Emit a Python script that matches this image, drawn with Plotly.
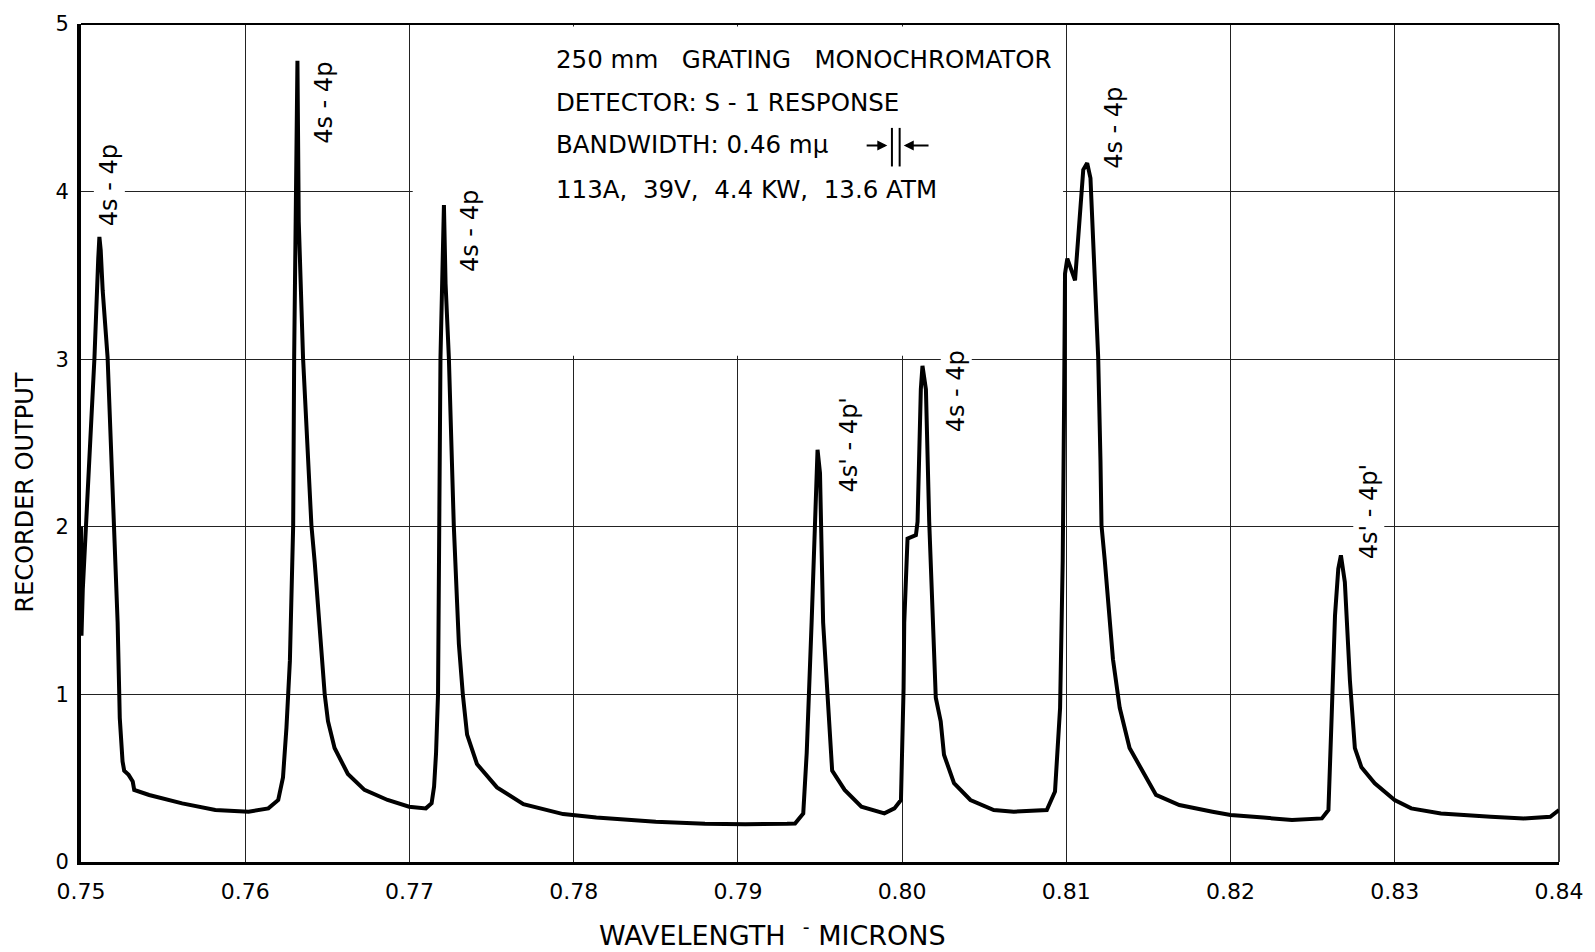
import plotly.graph_objects as go

# ---------------- data ----------------
wavelength = [
    0.75000, 0.75003, 0.75011, 0.75031, 0.75060, 0.75082, 0.75105, 0.75112, 0.75120, 0.75132,
    0.75162, 0.75203, 0.75223, 0.75233, 0.75236, 0.75253, 0.75263, 0.75290, 0.75304, 0.75315,
    0.75324, 0.75415, 0.75616, 0.75818, 0.76020, 0.76141, 0.76201, 0.76230, 0.76251, 0.76272,
    0.76292, 0.76298, 0.76318, 0.76326, 0.76352, 0.76403, 0.76423, 0.76453, 0.76484, 0.76504,
    0.76544, 0.76625, 0.76726, 0.76867, 0.76998, 0.77100, 0.77135, 0.77150, 0.77162, 0.77174,
    0.77180, 0.77189, 0.77210, 0.77220, 0.77240, 0.77270, 0.77290, 0.77301, 0.77325, 0.77351,
    0.77411, 0.77533, 0.77694, 0.77936, 0.78138, 0.78500, 0.78800, 0.79045, 0.79300, 0.79348,
    0.79398, 0.79419, 0.79449, 0.79469, 0.79478, 0.79485, 0.79500, 0.79519, 0.79574, 0.79650,
    0.79752, 0.79892, 0.79953, 0.79993, 0.80009, 0.80013, 0.80033, 0.80084, 0.80094, 0.80114,
    0.80124, 0.80145, 0.80165, 0.80195, 0.80205, 0.80235, 0.80255, 0.80316, 0.80416, 0.80558,
    0.80680, 0.80881, 0.80931, 0.80962, 0.80978, 0.80986, 0.80992, 0.81006, 0.81053, 0.81103,
    0.81127, 0.81147, 0.81163, 0.81194, 0.81208, 0.81214, 0.81234, 0.81284, 0.81325, 0.81385,
    0.81546, 0.81688, 0.81890, 0.82000, 0.82200, 0.82374, 0.82556, 0.82596, 0.82616, 0.82636,
    0.82656, 0.82672, 0.82696, 0.82727, 0.82757, 0.82797, 0.82878, 0.82999, 0.83100, 0.83281,
    0.83584, 0.83785, 0.83947, 0.84000,
]
output = [
    2.00, 1.35, 1.63, 2.01, 2.60, 3.01, 3.60, 3.73, 3.65, 3.41,
    3.01, 2.01, 1.43, 1.00, 0.86, 0.60, 0.545, 0.52, 0.50, 0.48,
    0.43, 0.40, 0.35, 0.31, 0.30, 0.32, 0.37, 0.505, 0.80, 1.20,
    2.01, 3.01, 4.78, 3.82, 3.01, 2.01, 1.79, 1.36, 1.00, 0.84,
    0.68, 0.525, 0.43, 0.37, 0.33, 0.32, 0.35, 0.45, 0.65, 1.00,
    2.01, 3.01, 3.92, 3.45, 3.01, 2.01, 1.55, 1.30, 1.00, 0.76,
    0.585, 0.445, 0.345, 0.286, 0.265, 0.24, 0.228, 0.225, 0.228, 0.23,
    0.29, 0.65, 1.43, 2.03, 2.30, 2.46, 2.32, 1.43, 0.545, 0.43,
    0.33, 0.29, 0.32, 0.37, 1.04, 1.43, 1.93, 1.95, 2.03, 2.82,
    2.96, 2.82, 2.03, 1.33, 0.98, 0.84, 0.64, 0.47, 0.37, 0.31,
    0.30, 0.31, 0.42, 0.92, 1.80, 2.69, 3.51, 3.60, 3.47, 4.13,
    4.17, 4.08, 3.72, 3.01, 2.39, 2.01, 1.80, 1.21, 0.92, 0.68,
    0.40, 0.34, 0.30, 0.28, 0.265, 0.25, 0.26, 0.31, 0.88, 1.47,
    1.75, 1.83, 1.67, 1.08, 0.68, 0.565, 0.47, 0.37, 0.32, 0.29,
    0.27, 0.26, 0.27, 0.31,
]

x_ticks = [0.75, 0.76, 0.77, 0.78, 0.79, 0.80, 0.81, 0.82, 0.83, 0.84]
x_tick_labels = ["0.75", "0.76", "0.77", "0.78", "0.79", "0.80", "0.81", "0.82", "0.83", "0.84"]
y_ticks = [0, 1, 2, 3, 4, 5]
y_tick_labels = ["0", "1", "2", "3", "4", "5"]

peak_labels = ["4s - 4p", "4s - 4p", "4s - 4p", "4s' - 4p'", "4s - 4p", "4s - 4p", "4s' - 4p'"]
peak_label_x = [0.75172, 0.76480, 0.77369, 0.79675, 0.80330, 0.81290, 0.82840]
peak_label_y = [4.040, 4.530, 3.765, 2.490, 2.810, 4.380, 2.090]

info_lines = [
    "250 mm   GRATING   MONOCHROMATOR",
    "DETECTOR: S - 1 RESPONSE",
    "BANDWIDTH: 0.46 mμ",
    "113A,  39V,  4.4 KW,  13.6 ATM",
]
info_y = [4.787, 4.530, 4.284, 4.010]

FONT = "DejaVu Sans"

fig = go.Figure()
fig.add_trace(go.Scatter(
    x=wavelength, y=output, mode="lines",
    line=dict(color="black", width=4),
    hoverinfo="skip", showlegend=False,
))

annotations = []
for t, x, y in zip(peak_labels, peak_label_x, peak_label_y):
    annotations.append(dict(
        x=x, y=y, xref="x", yref="y", text=t, textangle=-90,
        showarrow=False, font=dict(family=FONT, size=24, color="black"),
        bgcolor="white", borderpad=1,
    ))
for t, y in zip(info_lines, info_y):
    annotations.append(dict(
        x=0.77883, y=y, xref="x", yref="y", text=t, xanchor="left", yanchor="middle",
        showarrow=False, font=dict(family=FONT, size=24.5, color="black"),
    ))
# bandwidth symbol arrows
annotations.append(dict(x=0.79910, y=4.275, ax=0.79775, ay=4.275, xref="x", yref="y",
                        axref="x", ayref="y", text="", showarrow=True, arrowhead=2,
                        arrowsize=1, arrowwidth=2, arrowcolor="black"))
annotations.append(dict(x=0.80010, y=4.275, ax=0.80170, ay=4.275, xref="x", yref="y",
                        axref="x", ayref="y", text="", showarrow=True, arrowhead=2,
                        arrowsize=1, arrowwidth=2, arrowcolor="black"))
# axis titles
annotations.append(dict(x=-0.038, y=0.4408, xref="paper", yref="paper", text="RECORDER OUTPUT",
                        textangle=-90, showarrow=False, xanchor="center", yanchor="middle",
                        font=dict(family=FONT, size=24, color="black")))
annotations.append(dict(x=0.468, y=-0.0853, xref="paper", yref="paper",
                        text="WAVELENGTH  <sup>-</sup> MICRONS", showarrow=False,
                        xanchor="center", yanchor="middle",
                        font=dict(family=FONT, size=27, color="black")))

shapes = [
    # blank area behind the information block (above gridlines, below the curve)
    dict(type="rect", xref="x", yref="y", x0=0.7702, x1=0.8098, y0=3.02, y1=4.985,
         fillcolor="white", line=dict(width=0), layer="between"),
    # bandwidth bars
    dict(type="line", xref="x", yref="y", x0=0.79938, x1=0.79938, y0=4.15, y1=4.38,
         line=dict(color="black", width=2)),
    dict(type="line", xref="x", yref="y", x0=0.79985, x1=0.79985, y0=4.15, y1=4.38,
         line=dict(color="black", width=2)),
    # top and right frame
    dict(type="line", xref="paper", yref="paper", x0=0, x1=1, y0=1, y1=1,
         line=dict(color="black", width=2)),
    dict(type="line", xref="paper", yref="paper", x0=1, x1=1, y0=0, y1=1,
         line=dict(color="black", width=1.5)),
]

fig.update_layout(
    width=1595, height=952,
    margin=dict(l=81, r=26, t=18, b=90),
    paper_bgcolor="white", plot_bgcolor="white",
    annotations=annotations, shapes=shapes,
    font=dict(family=FONT, color="black"),
)
fig.update_xaxes(
    range=[0.75, 0.84], tickvals=x_ticks, ticktext=x_tick_labels,
    showgrid=True, gridcolor="#222222", gridwidth=1.2,
    showline=True, linecolor="black", linewidth=3,
    ticks="", ticklabelstandoff=8, zeroline=False,
    tickfont=dict(family=FONT, size=22, color="black"),
)
fig.update_yaxes(
    range=[0, 5], tickvals=y_ticks, ticktext=y_tick_labels,
    showgrid=True, gridcolor="#222222", gridwidth=1.2,
    showline=True, linecolor="black", linewidth=4,
    ticks="", ticklabelstandoff=4, zeroline=False,
    tickfont=dict(family=FONT, size=21, color="black"),
)

fig.write_html("out.html")
